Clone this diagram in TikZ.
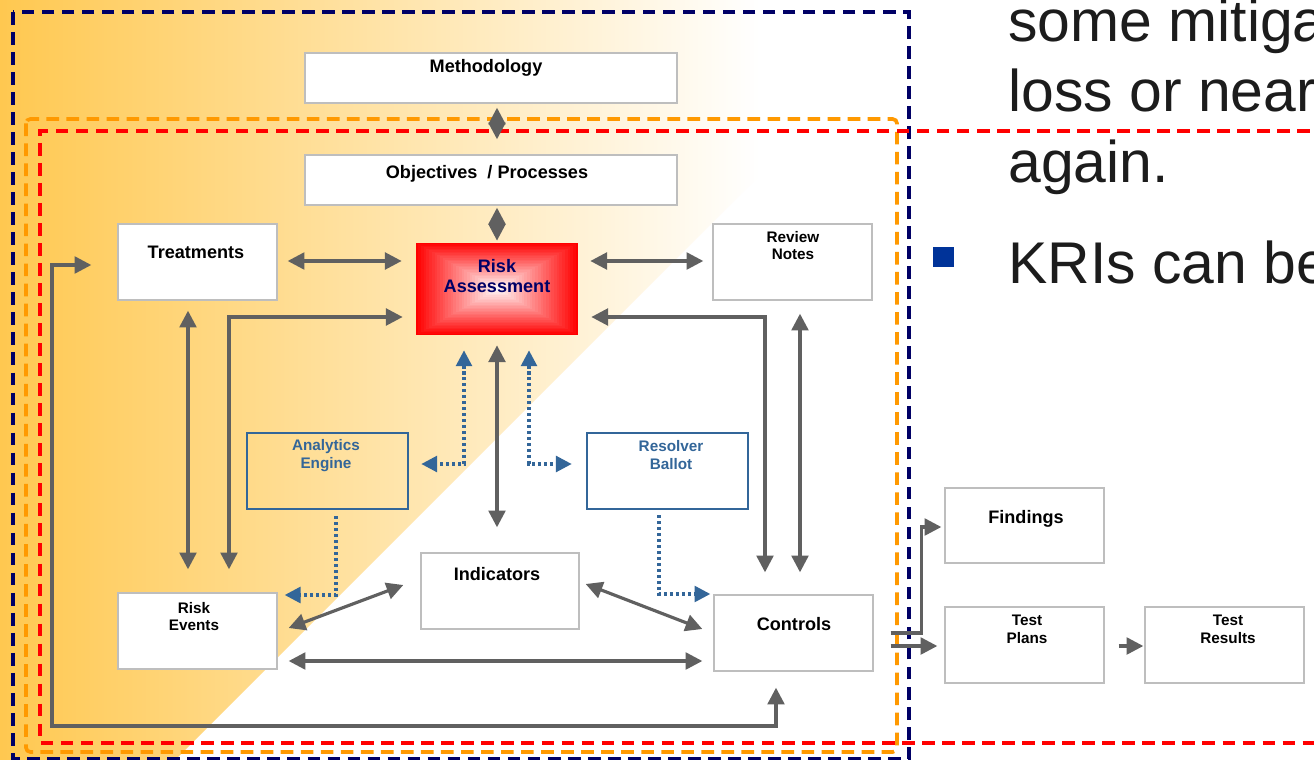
\documentclass[tikz,border=0pt]{standalone}
\usepackage{fontspec}
\setmainfont{Liberation Sans}
\usepackage{tikz}
\usetikzlibrary{arrows.meta, positioning, calc}
\definecolor{bgorange}{RGB}{255, 200, 80}
\definecolor{navyline}{RGB}{0, 0, 102}
\definecolor{orangeline}{RGB}{255, 153, 0}
\definecolor{redline}{RGB}{255, 0, 0}
\definecolor{arrowgray}{RGB}{96, 96, 96}
\definecolor{boxgray}{RGB}{190, 190, 190}
\definecolor{engblue}{RGB}{51, 102, 153}
\definecolor{bulletblue}{RGB}{0, 51, 153}
\definecolor{ranavy}{RGB}{0, 0, 102}
\definecolor{bodytext}{RGB}{28, 28, 28}
\tikzstyle{box} = [rectangle, draw=boxgray, line width=0.8pt, fill=white, minimum width=3.18cm, minimum height=1.52cm, inner sep=0pt]
\tikzstyle{engbox} = [rectangle, draw=engblue, line width=1.5pt, minimum width=3.22cm, minimum height=1.52cm, inner sep=0pt]
\tikzstyle{lbl} = [font=\bfseries\fontsize{10.3}{11.9}\selectfont, align=center, inner sep=0pt]
\tikzstyle{lblsm} = [font=\bfseries\fontsize{8.7}{10.2}\selectfont, align=center, inner sep=0pt]
\tikzstyle{bodytxt} = [font=\fontsize{33.5}{40}\selectfont, text=bodytext, inner sep=0pt, anchor=base west]
\tikzstyle{arrow} = [line width=1.8pt, draw=arrowgray, ->, >={Triangle[length=9.5pt, width=9.5pt]}]
\tikzstyle{dotarrow} = [line width=1.8pt, draw=engblue, dash pattern=on 1.8pt off 1.6pt, ->, >={Triangle[length=9pt, width=9pt]}]
\tikzstyle{framenavy} = [line width=2.1pt, draw=navyline, dash pattern=on 7.2pt off 4.2pt]
\tikzstyle{frameorange} = [line width=2.1pt, draw=orangeline, dash pattern=on 7.2pt off 4.2pt]
\tikzstyle{framered} = [line width=2.1pt, draw=redline, dash pattern=on 7.2pt off 4.2pt]

\begin{document}
\begin{tikzpicture}[x=0.02cm, y=-0.02cm]
    \useasboundingbox (0,0) rectangle (1314,760);
    \clip (0,0) rectangle (1314,760);

    % Background
    \fill[white] (0,0) rectangle (1314,760);
    \begin{scope}
        \clip (0,0) -- (935,0) -- (175,760) -- (0,760) -- cycle;
        \shade[left color=bgorange, right color=white] (0,0) rectangle (760,760);
    \end{scope}

    % Dashed frames
    \draw[framenavy] (13,12) rectangle (909,759);
    \draw[frameorange, rounded corners=2.5pt] (26,119) rectangle (897,752);
    \draw[framered] (1330,131) -- (40,131) -- (40,743) -- (1330,743);

    % Boxes
    \node[box, minimum width=7.44cm, minimum height=1cm] (meth) at (491,78) {};
    \node[box, minimum width=7.44cm, minimum height=1cm] (obj) at (491,180) {};
    \node[box] (treat) at (197.5,262) {};
    \node[rectangle, minimum width=3.24cm, minimum height=1.84cm, inner sep=0pt] (risk) at (497,289) {};
    \node[box] (review) at (792.5,262) {};
    \node[engbox] (engine) at (327.5,471) {};
    \node[engbox] (ballot) at (667.5,471) {};
    \node[box, minimum width=3.16cm] (indic) at (500,591) {};
    \node[box] (events) at (197.5,631) {};
    \node[box] (ctrl) at (793.5,633) {};
    \node[box, minimum height=1.5cm] (find) at (1024.5,525.5) {};
    \node[box] (plans) at (1024.5,645) {};
    \node[box] (results) at (1224.5,645) {};

    % Risk assessment shading
    \foreach \i in {0,...,29}{
        \pgfmathsetmacro{\pct}{100-100*\i/30}
        \pgfmathsetmacro{\dx}{81*\i/30}
        \pgfmathsetmacro{\dy}{46*\i/30}
        \fill[red!\pct!white] ($(risk.south west)+(\dx,-\dy)$) rectangle ($(risk.north east)+(-\dx,\dy)$);
    }

    % Box texts
    \node[lbl, anchor=base] (methT) at (486,72.7) {Methodology};
    \node[lbl, anchor=base] (objT) at (487,179) {Objectives~ / Processes};
    \node[lbl, anchor=base] (treatT) at (196,258) {Treatments};
    \node[lbl, text=ranavy] (riskT) at (497,276) {Risk\\Assessment};
    \node[lblsm] (reviewT) at (793,245.5) {Review\\Notes};
    \node[lblsm, text=engblue] (engineT) at (326,456) {Analytics\\Engine};
    \node[lblsm, text=engblue] (ballotT) at (671,455) {Resolver\\Ballot};
    \node[lbl, anchor=base] (indicT) at (497,580) {Indicators};
    \node[lblsm] (eventsT) at (194,616.5) {Risk\\Events};
    \node[lbl, anchor=base] (ctrlT) at (794,630) {Controls};
    \node[lbl, anchor=base] (findT) at (1026,523) {Findings};
    \node[lblsm] (plansT) at (1027,629.5) {Test\\Plans};
    \node[lblsm] (resultsT) at (1228,629.5) {Test\\Results};

    % Arrows
    \draw[arrow, <->] ($(meth.south)+(6,4)$) -- ($(obj.north)+(6,-15)$);
    \draw[arrow, <->] ($(obj.south)+(6,2)$) -- ($(risk.north)+(0,-2)$);
    \draw[arrow, <->] ($(treat.east)+(10,-1)$) -- ($(treat.east -| risk.west)+(-14,-1)$);
    \draw[arrow, <->] ($(risk.east |- review.west)+(12,-1)$) -- ($(review.west)+(-9,-1)$);
    \draw[arrow, <->] ($(risk.west)+(-13,28)$) -| ($(events.north)+(31.5,-23)$);
    \draw[arrow, <->] ($(treat.south)+(-9.5,10)$) -- ($(events.north)+(-9.5,-23)$);
    \draw[arrow, <->] ($(risk.east)+(13,28)$) -| ($(ctrl.north)+(-28.5,-22)$);
    \draw[arrow, <->] ($(review.south)+(7.5,13)$) -- ($(ctrl.north)+(6.5,-22)$);
    \draw[arrow, <->] ($(risk.south)+(0,10)$) -- ($(indic.north)+(-3,-25)$);
    \draw[arrow, <->] ($(events.east)+(11,-3)$) -- ($(indic.west)+(-17,-6)$);
    \draw[arrow, <->] ($(indic.east)+(6,-7)$) -- ($(ctrl.west)+(-11,-4)$);
    \draw[arrow, <->] ($(events.east)+(11,30)$) -- ($(ctrl.west)+(-11,28)$);
    \coordinate (loopL) at (52,726);
    \draw[arrow, <->] ($(treat.west)+(-26,3)$) -| (loopL) -| ($(ctrl.south)+(-17.5,16)$);
    \draw[arrow] ($(ctrl.east)+(17,0)$) -| ($(find.west)+(-23,1.5)$) -- ($(find.west)+(-3,1.5)$);
    \draw[arrow] ($(ctrl.east)+(17,13)$) -- ($(plans.west)+(-7,1)$);
    \draw[arrow] ($(plans.east)+(14,1)$) -- ($(results.west)+(-1,1)$);

    % Dotted links
    \draw[dotarrow, <->] ($(risk.south)+(-33,15)$) |- ($(engine.east)+(12,-7)$);
    \draw[dotarrow, <->] ($(risk.south)+(32,15)$) |- ($(ballot.west)+(-14,-7)$);
    \draw[dotarrow] ($(engine.south)+(8.5,6)$) |- ($(events.east)+(7,-36)$);
    \draw[dotarrow] ($(ballot.south)+(-8.5,5)$) |- ($(ctrl.west)+(-3,-39)$);

    % Slide text
    \node[bodytxt] (txtA) at (1008,42) {some mitiga};
    \node[bodytxt] (txtB) at (1008,112) {loss or near};
    \node[bodytxt] (txtC) at (1008,183) {again.};
    \fill[bulletblue] (933,247) rectangle (954,267);
    \node[bodytxt] (txtD) at (1008,283) {KRIs can be};
\end{tikzpicture}
\end{document}
